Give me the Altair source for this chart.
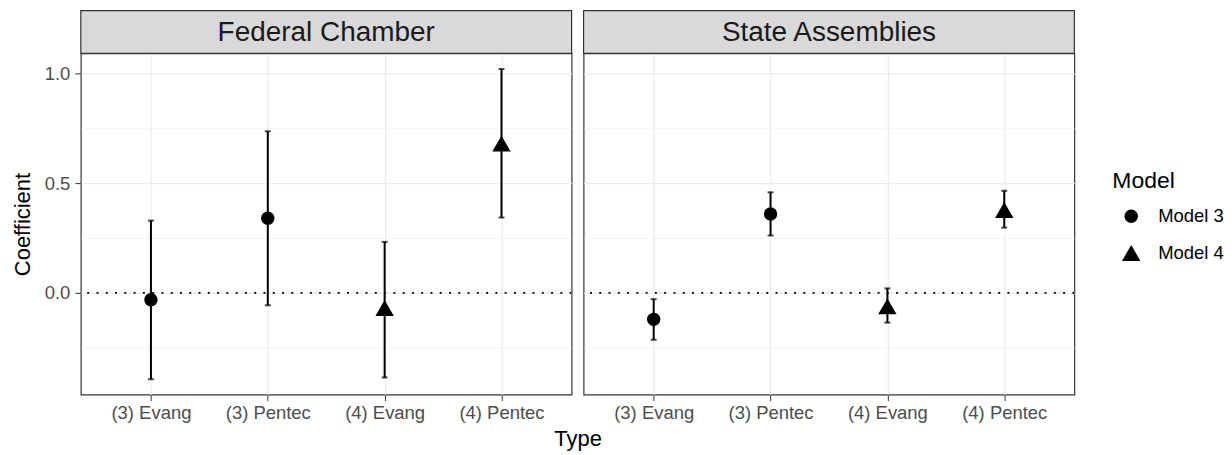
import altair as alt
import pandas as pd

types = ["(3) Evang", "(3) Pentec", "(4) Evang", "(4) Pentec"]
models = ["Model 3", "Model 3", "Model 4", "Model 4"]
panels = ["Federal Chamber", "State Assemblies"]

fed_est = [-0.032, 0.340, -0.069, 0.680]
fed_lo = [-0.394, -0.057, -0.386, 0.343]
fed_hi = [0.329, 0.736, 0.232, 1.020]

st_est = [-0.121, 0.359, -0.062, 0.377]
st_lo = [-0.214, 0.261, -0.136, 0.297]
st_hi = [-0.029, 0.458, 0.020, 0.465]

y_ticks = [-0.25, 0.0, 0.25, 0.5, 0.75, 1.0]
y_domain = [-0.464, 1.091]

W, H = 492, 342
STRIP = 43
FONT = "Liberation Sans"


def frame(est, lo, hi):
    return pd.DataFrame({"Type": types, "Model": models, "est": est, "lo": lo, "hi": hi})


def panel(df, name, left):
    minor = "datum.value % 0.5 != 0"
    x_axis = alt.Axis(
        title="Type" if left else None,
        titleX=W + 6 if left else 0,
        titleAlign="center",
        titleFontSize=22,
        titleFontWeight="normal",
        titleColor="black",
        titlePadding=7,
        labelFontSize=18.5,
        labelColor="#4D4D4D",
        labelPadding=3,
        tickColor="#333333",
        tickSize=6,
        tickWidth=1,
        domain=False,
        grid=True,
        gridColor="#EBEBEB",
        gridWidth=1.2,
        labelAngle=0,
    )
    y_axis = alt.Axis(
        values=y_ticks,
        title="Coefficient" if left else None,
        titleFontSize=22,
        titleFontWeight="normal",
        titleColor="black",
        titlePadding=10,
        labels=left,
        labelExpr="datum.value % 0.5 != 0 ? '' : format(datum.value, '.1f')",
        labelFontSize=18.5,
        labelColor="#4D4D4D",
        labelPadding=5,
        ticks=left,
        tickColor="#333333",
        tickSize=6,
        tickOpacity={"condition": {"test": minor, "value": 0}, "value": 1},
        domain=False,
        grid=True,
        gridColor="#EBEBEB",
        gridWidth={"condition": {"test": minor, "value": 0.6}, "value": 1.2},
    )
    x = alt.X("Type:N", sort=types, scale=alt.Scale(type="point", padding=0.6, domain=types), axis=x_axis)
    y_scale = alt.Scale(domain=y_domain, nice=False, zero=False)
    base = alt.Chart(df)
    bars = base.mark_rule(color="black", strokeWidth=2).encode(
        x=x, y=alt.Y("lo:Q", scale=y_scale, axis=y_axis), y2="hi:Q"
    )
    cap_lo = base.mark_tick(color="black", size=6, thickness=2).encode(x=x, y=alt.Y("lo:Q"))
    cap_hi = base.mark_tick(color="black", size=6, thickness=2).encode(x=x, y=alt.Y("hi:Q"))
    legend = alt.Legend(
        title="Model",
        orient="none",
        legendX=1034,
        legendY=117,
    )
    pts = base.mark_point(filled=True, opacity=1, color="black").encode(
        x=x,
        y=alt.Y("est:Q"),
        shape=alt.Shape(
            "Model:N",
            scale=alt.Scale(domain=["Model 3", "Model 4"], range=["circle", "triangle-up"]),
            legend=legend,
        ),
        size=alt.Size(
            "Model:N",
            scale=alt.Scale(domain=["Model 3", "Model 4"], range=[180, 340]),
            legend=legend,
        ),
    )
    zero = alt.Chart(pd.DataFrame({"z": [0.0]})).mark_rule(
        color="black", strokeWidth=1.8, strokeDash=[2, 7.3]
    ).encode(y="z:Q")
    strip_df = pd.DataFrame({"panel": [name]})
    strip = alt.Chart(strip_df).mark_rect(fill="#D9D9D9", stroke="#333333", strokeWidth=1.2).encode(
        x=alt.value(0), x2=alt.value("width"), y=alt.value(-STRIP), y2=alt.value(0)
    )
    strip_txt = alt.Chart(strip_df).mark_text(
        fontSize=28, font=FONT, color="#1A1A1A", baseline="middle", align="center"
    ).encode(x=alt.value(W / 2), y=alt.value(-STRIP / 2 + 1), text="panel:N")
    return alt.layer(zero, bars, cap_lo, cap_hi, pts, strip, strip_txt).properties(width=W, height=H)


left = panel(frame(fed_est, fed_lo, fed_hi), panels[0], True)
right = panel(frame(st_est, st_lo, st_hi), panels[1], False)

chart = (
    alt.hconcat(left, right, spacing=12, bounds="flush")
    .resolve_scale(y="shared", x="independent")
    .properties(padding={"left": 2, "top": 0, "right": 0, "bottom": 0})
    .configure(font=FONT)
    .configure_view(stroke="#333333", strokeWidth=1.2)
    .configure_legend(
        titleFontSize=23,
        titleFontWeight="normal",
        titleColor="black",
        titlePadding=14,
        labelFontSize=18.5,
        labelColor="black",
        labelOffset=17,
        symbolOffset=9,
        symbolFillColor="black",
        symbolStrokeColor="black",
        rowPadding=16,
        padding=0,
    )
)

chart.save("out.html", embed_options={"renderer": "svg", "actions": False})
